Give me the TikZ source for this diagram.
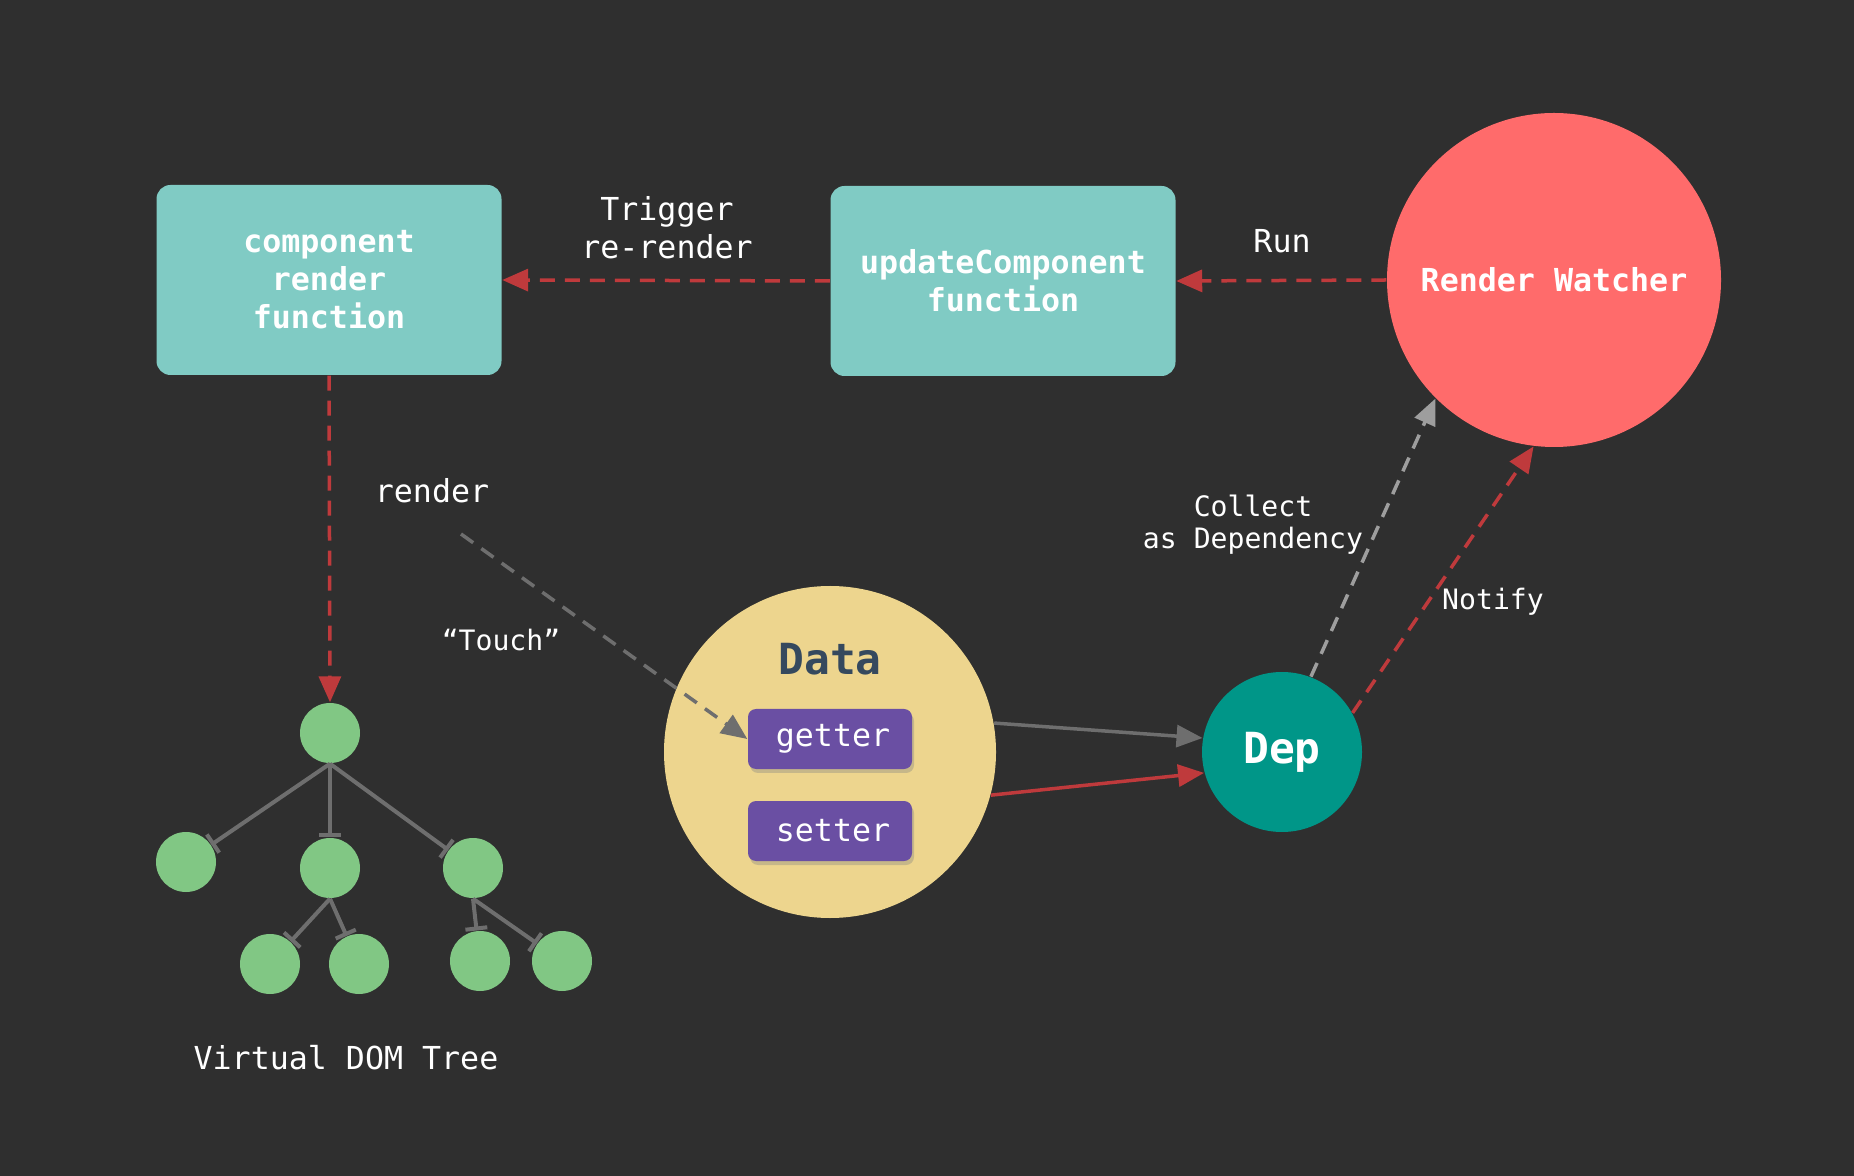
\documentclass[tikz,border=0pt]{standalone}
\usepackage{fontspec}
\setmonofont{DejaVu Sans Mono}
\usetikzlibrary{arrows.meta,shadows}
\definecolor{bgdark}{HTML}{2F2F2F}
\definecolor{tealbox}{HTML}{80CBC4}
\definecolor{watcherred}{HTML}{FF6B6B}
\definecolor{datayellow}{HTML}{EDD58E}
\definecolor{getterpurple}{HTML}{6A4FA3}
\definecolor{depteal}{HTML}{009688}
\definecolor{leafgreen}{HTML}{81C784}
\definecolor{linkred}{HTML}{BF3A3C}
\definecolor{linkgray}{HTML}{6E6E6E}
\definecolor{slate}{HTML}{35495E}
\tikzset{
  every node/.style={font=\ttfamily\fontsize{9}{10.8}\selectfont, text=white},
  smalllabel/.style={align=center, font=\ttfamily\fontsize{8}{9.2}\selectfont},
  fnbox/.style={fill=tealbox, rounded corners=0.14cm, minimum width=3.45cm, minimum height=1.9cm, align=center, font=\ttfamily\bfseries\fontsize{9}{10.8}\selectfont},
  accessor/.style={fill=getterpurple, rounded corners=0.08cm, minimum width=1.64cm, minimum height=0.6cm, drop shadow={shadow xshift=0.02cm, shadow yshift=-0.04cm, opacity=0.35}},
  leaf/.style={circle, fill=leafgreen, minimum size=0.6cm, inner sep=0pt},
  redlink/.style={draw=linkred, line width=0.035cm, dash pattern=on 0.15cm off 0.1cm, -{Triangle[length=0.26cm, width=0.22cm]}},
  graylink/.style={draw=linkgray, line width=0.035cm, -{Triangle[length=0.26cm, width=0.22cm]}},
  treeedge/.style={draw=linkgray, line width=0.04cm, -{Bar[width=0.22cm]}}
}
\begin{document}
\begin{tikzpicture}
		%%%%% START %%%%%
		
		\fill[bgdark] (0, 0) rectangle (18.54, -11.76);
		\useasboundingbox (0, 0) rectangle (18.54, -11.76);
		
		\node[fnbox] (comp) at (3.29, -2.80) {component\\render\\function};
		\node[fnbox] (update) at (10.03, -2.81) {updateComponent\\function};
		\node[circle, fill=watcherred, minimum size=3.34cm, inner sep=0pt, font=\ttfamily\bfseries\fontsize{9}{10.8}\selectfont] (watcher) at (15.54, -2.80) {Render Watcher};
		
		\node[circle, fill=datayellow, minimum size=3.32cm, inner sep=0pt] (data) at (8.30, -7.52) {};
		\node[text=slate, font=\ttfamily\bfseries\fontsize{12.2}{14}\selectfont] (datalabel) at (8.30, -6.59) {Data};
		\node[accessor] (getter) at (8.30, -7.39) {\hspace{0.06cm}getter};
		\node[accessor] (setter) at (8.30, -8.31) {\hspace{0.06cm}setter};
		
		\node[circle, fill=depteal, minimum size=1.6cm, inner sep=0pt, font=\ttfamily\bfseries\fontsize{12.2}{14}\selectfont] (dep) at (12.82, -7.52) {Dep};
		
		% virtual dom tree
		\node[leaf] (root) at (3.30, -7.33) {};
		\node[leaf] (n1) at (1.86, -8.62) {};
		\node[leaf] (n2) at (3.30, -8.68) {};
		\node[leaf] (n3) at (4.73, -8.68) {};
		\node[leaf] (n21) at (2.70, -9.64) {};
		\node[leaf] (n22) at (3.59, -9.64) {};
		\node[leaf] (n31) at (4.80, -9.61) {};
		\node[leaf] (n32) at (5.62, -9.61) {};
		
		\draw[treeedge] (root.south) -- (n1);
		\draw[treeedge] (root.south) -- (n2);
		\draw[treeedge] (root.south) -- (n3);
		\draw[treeedge] (n2.south) -- (n21);
		\draw[treeedge] (n2.south) -- (n22);
		\draw[treeedge] (n3.south) -- (n31);
		\draw[treeedge] (n3.south) -- (n32);
		
		\node (treelabel) at (3.46, -10.58) {Virtual DOM Tree};
		
		% links
		\draw[redlink] (update.west) -- (comp.east);
		\node[align=center] (triggerlabel) at (6.67, -2.28) {Trigger\\re-render};
		\draw[redlink] (watcher.west) -- (update.east);
		\node (runlabel) at (12.82, -2.41) {Run};
		\draw[redlink] (comp.south) -- (root.north);
		
		\node (renderlabel) at (4.32, -4.91) {render};
		\coordinate (touchstart) at (4.61, -5.34);
		\draw[graylink, dash pattern=on 0.15cm off 0.1cm] (touchstart) -- (getter.west);
		\node[smalllabel] (touchlabel) at (5.01, -6.40) {“Touch”};
		
		\draw[graylink] (data.10) -- (dep.170);
		\draw[graylink, draw=linkred] (data.-15) -- (dep.195);
		
		\draw[graylink, draw=black!38, dash pattern=on 0.15cm off 0.1cm] (dep.69) -- (watcher.225.5);
		\node[smalllabel] (collectlabel) at (12.53, -5.25) {Collect\\as Dependency};
		\draw[redlink] (dep.29.5) -- (watcher.263.5);
		\node[smalllabel] (notifylabel) at (14.93, -6.02) {Notify};
		
		%%%%% END %%%%%
	\end{tikzpicture}
\end{document}
